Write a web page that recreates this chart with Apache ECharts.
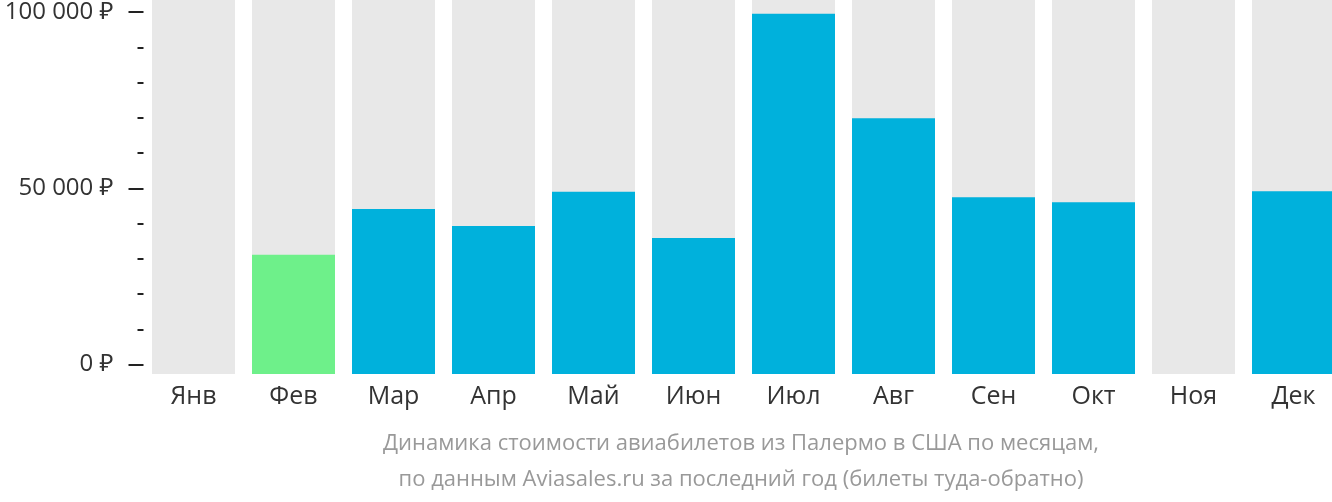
<!DOCTYPE html>
<html>
<head>
<meta charset="utf-8">
<style>
html,body{margin:0;padding:0;background:#fff;overflow:hidden;}
#chart{width:1344px;height:502px;}
</style>
<script src="https://cdn.jsdelivr.net/npm/echarts@6/dist/echarts.min.js"></script>
</head>
<body>
<div id="chart"></div>
<script>
const months = ['Янв','Фев','Мар','Апр','Май','Июн','Июл','Авг','Сен','Окт','Ноя','Дек'];
const prices = [null, 30800, 43700, 38900, 48500, 35500, 98500, 69200, 47000, 45600, null, 48700];
const yTicks = [0, 50000, 100000];
const captionLines = ['Динамика стоимости авиабилетов из Палермо в США по месяцам,', 'по данным Aviasales.ru за последний год (билеты туда-обратно)'];

const FONT = '"Open Sans", "Noto Sans", sans-serif';
const cheapest = Math.min(...prices.filter(v => v != null));
const OFFSET = -2670;   // bars start slightly below the 0 tick
const TOPVAL = 102390;  // value at the very top of the bar area

function fmt(v){ return String(v).replace(/\B(?=(\d{3})+(?!\d))/g, ' ') + ' ₽'; }

const chart = echarts.init(document.getElementById('chart'), null, {renderer:'canvas'});
chart.setOption({
  animation:false,
  grid:[
    {left:143.5, width:1200, top:0, bottom:128, containLabel:false},
    {left:143.5, width:1200, top:8.5, bottom:137.5, containLabel:false}
  ],
  xAxis:[
    {type:'category', gridIndex:0, data:months,
     axisLine:{show:false}, axisTick:{show:false},
     axisLabel:{color:'#333', fontFamily:FONT, fontSize:25, margin:10}},
    {type:'category', gridIndex:1, data:months, show:false}
  ],
  yAxis:[
    {type:'value', gridIndex:0, min:OFFSET, max:TOPVAL, startValue:OFFSET, show:false, splitLine:{show:false}},
    {type:'value', gridIndex:1, min:yTicks[0], max:yTicks[yTicks.length-1], interval:yTicks[1]-yTicks[0],
     axisLine:{show:false},
     axisTick:{show:true, length:15, lineStyle:{color:'#222', width:2}},
     minorTick:{show:true, splitNumber:5, length:6, lineStyle:{color:'#222', width:2}},
     splitLine:{show:false},
     axisLabel:{color:'#333', fontFamily:FONT, fontSize:24, margin:30, formatter:fmt}}
  ],
  series:[{
    type:'bar', xAxisIndex:0, yAxisIndex:0,
    data:prices,
    barCategoryGap:'17%',
    showBackground:true,
    backgroundStyle:{color:'#e8e8e8'},
    itemStyle:{color:p => p.value === cheapest ? '#6ef08a' : '#00b1dc'}
  }],
  graphic:captionLines.map((t,i)=>({
    type:'text', x:741, y:444 + i*36,
    style:{text:t, fill:'#999', font:'22px ' + FONT, textAlign:'center', textVerticalAlign:'middle'}
  }))
});
</script>
</body>
</html>
